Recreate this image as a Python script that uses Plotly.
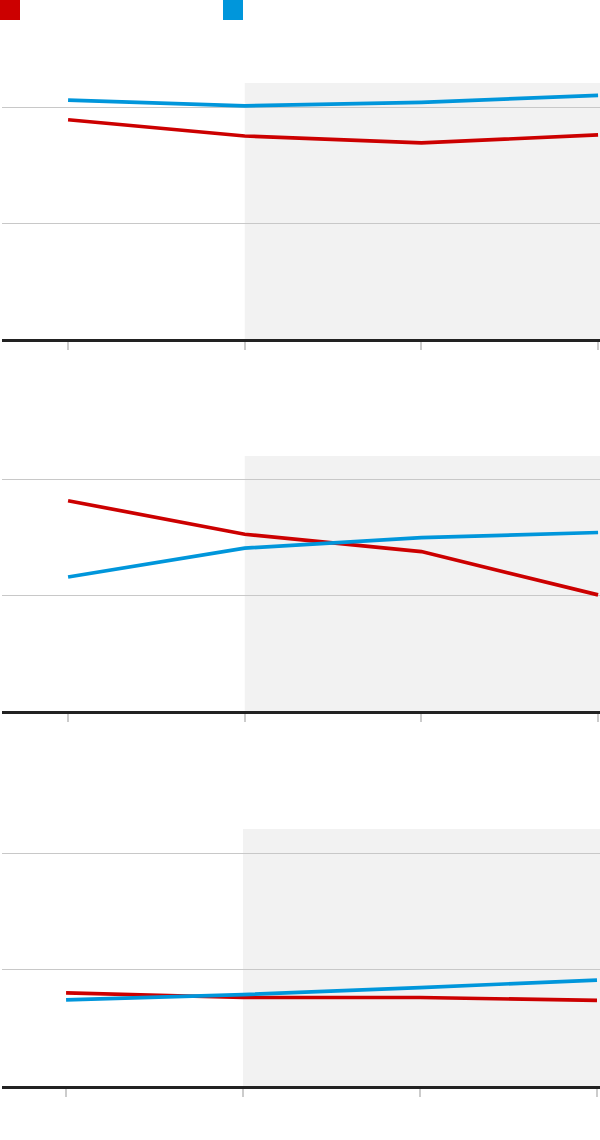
import plotly.graph_objects as go
from plotly.subplots import make_subplots

# --- Данные (подписи в оригинале отсутствуют) ---
PERIODS = [0, 1, 2, 3]
GRID_TICKS = [0, 10, 20]

RED_1 = [18.9, 17.5, 16.9, 17.6]
BLUE_1 = [20.6, 20.1, 20.4, 21.0]

RED_2 = [18.2, 15.3, 13.8, 10.05]
BLUE_2 = [11.6, 14.1, 15.0, 15.45]

RED_3 = [8.0, 7.6, 7.6, 7.35]
BLUE_3 = [7.4, 7.85, 8.45, 9.1]

RED = '#cc0000'
BLUE = '#0096db'
SHADE = '#f2f2f2'

W, H = 600, 1140
# нижняя панель в оригинале сдвинута на пару пикселей влево
X_RANGES = [[-0.374, 3.011], [-0.374, 3.011], [-0.362, 3.017]]
Y_RANGE = [0, 22.07]


def main():
    fig = make_subplots(rows=3, cols=1)

    panels = [(RED_1, BLUE_1), (RED_2, BLUE_2), (RED_3, BLUE_3)]
    # домены панелей в пикселях (верх, низ)
    px_domains = [(83, 339), (456, 711), (829, 1086)]

    for i, (red, blue) in enumerate(panels, start=1):
        for vals, col in ((red, RED), (blue, BLUE)):
            fig.add_trace(
                go.Scatter(x=PERIODS, y=vals, mode='lines',
                           line=dict(color=col, width=3.7),
                           showlegend=False, hoverinfo='skip'),
                row=i, col=1)

        top, bot = px_domains[i - 1]
        x_range = X_RANGES[i - 1]
        ax = '' if i == 1 else str(i)
        fig.update_layout(**{
            f'yaxis{ax}': dict(domain=[1 - bot / H, 1 - top / H], range=Y_RANGE,
                               tickvals=GRID_TICKS, showticklabels=False,
                               showgrid=True, gridcolor='#c8c8c8', gridwidth=1,
                               zeroline=False, showline=False, fixedrange=True),
            f'xaxis{ax}': dict(range=x_range, tickvals=PERIODS, showticklabels=False,
                               showgrid=False, zeroline=False,
                               showline=True, linecolor='#222222', linewidth=3,
                               ticks='outside', ticklen=8, tickwidth=1.5,
                               tickcolor='#cccccc', fixedrange=True),
        })

        # затенённая область справа от второй точки
        fig.add_shape(type='rect', xref=f'x{ax}', yref=f'y{ax}',
                      x0=PERIODS[1], x1=x_range[1], y0=Y_RANGE[0], y1=Y_RANGE[1],
                      fillcolor=SHADE, line_width=0, layer='below')

    # квадраты легенды (без подписей, как в оригинале)
    for x0, col in ((0, RED), (223, BLUE)):
        fig.add_shape(type='rect', xref='paper', yref='paper',
                      x0=(x0 - 2) / 598, x1=(x0 + 18) / 598,
                      y0=1 - 20 / H, y1=1.0,
                      fillcolor=col, line_width=0)

    fig.update_layout(
        width=W, height=H,
        margin=dict(l=2, r=0, t=0, b=0),
        paper_bgcolor='white', plot_bgcolor='white',
        showlegend=False,
    )

    # убираем отступ body, чтобы график занимал окно целиком
    fig.write_html('out.html', config={'displayModeBar': False},
                   post_script="document.body.style.margin='0';")


if __name__ == '__main__':
    main()
